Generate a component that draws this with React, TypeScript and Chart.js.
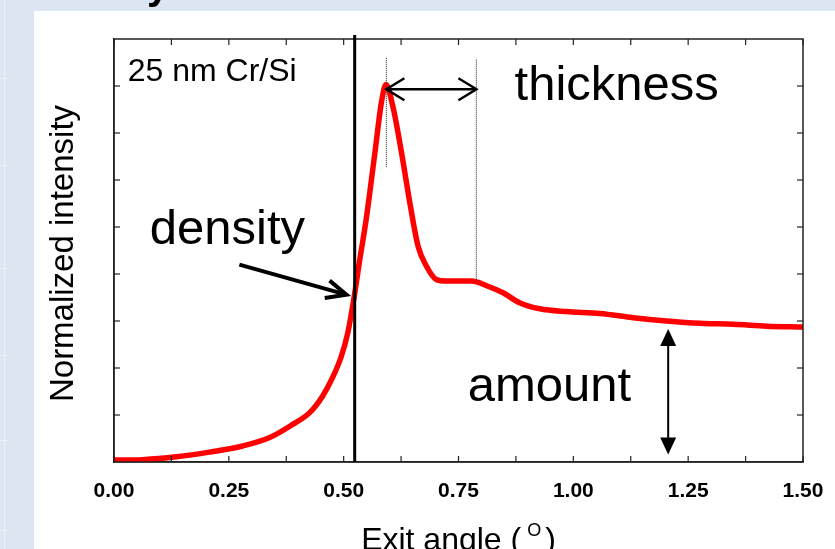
import React, { useEffect, useRef } from 'react';
import { Chart, registerables } from 'chart.js';

Chart.register(...registerables);

// ---- data ----
const exitAngle = [0, 0.062, 0.136, 0.208, 0.28, 0.339, 0.389, 0.426, 0.454, 0.476, 0.495, 0.509, 0.522, 0.535, 0.549, 0.568, 0.582, 0.592, 0.607, 0.626, 0.644, 0.662, 0.68, 0.702, 0.724, 0.778, 0.814, 0.847, 0.883, 0.927, 0.985, 1.058, 1.13, 1.203, 1.276, 1.348, 1.421, 1.5];
const intensity = [0.04, 0.05, 0.11, 0.21, 0.34, 0.52, 0.8, 1.05, 1.4, 1.8, 2.25, 2.75, 3.46, 4.3, 5.16, 6.58, 7.64, 8.03, 7.57, 6.58, 5.52, 4.59, 4.17, 3.88, 3.85, 3.85, 3.74, 3.6, 3.39, 3.26, 3.2, 3.16, 3.07, 3.0, 2.95, 2.93, 2.89, 2.87];

const xMajorTicks = [0, 0.25, 0.5, 0.75, 1.0, 1.25, 1.5];
const xMinorTicks = [0.125, 0.375, 0.625, 0.875, 1.125, 1.375];
const yTicks = [1, 2, 3, 4, 5, 6, 7, 8];

const xTitle = 'Exit angle (';
const xTitleSup = 'O';
const yTitle = 'Normalized intensity';
const sampleLabel = '25 nm Cr/Si';
const densityLabel = 'density';
const thicknessLabel = 'thickness';
const amountLabel = 'amount';

// annotation anchors in data units
const criticalAngle = 0.524;
const peakAngle = 0.593;
const shoulderAngle = 0.789;
const peakGuide = [8.6, 6.27];
const shoulderGuide = [8.56, 3.84];
const thicknessArrowY = 7.93;
const densityArrow = [[0.273, 4.2], [0.506, 3.56]];
const amountArrowX = 1.2065;
const amountArrowY = [0.16, 2.83];
const sampleLabelPos = [0.03, 8.1];
const densityLabelPos = [0.078, 4.63];
const thicknessLabelPos = [0.872, 7.7];
const amountLabelPos = [0.77, 1.29];

const SANS = '"Liberation Sans", Arial, sans-serif';

function line(ctx, x1, y1, x2, y2) {
  ctx.beginPath();
  ctx.moveTo(x1, y1);
  ctx.lineTo(x2, y2);
  ctx.stroke();
}

function openHead(ctx, tx, ty, fx, fy, len, half) {
  const dx = tx - fx, dy = ty - fy;
  const d = Math.hypot(dx, dy);
  const ux = dx / d, uy = dy / d;
  const bx = tx - ux * len, by = ty - uy * len;
  ctx.beginPath();
  ctx.moveTo(bx - uy * half, by + ux * half);
  ctx.lineTo(tx, ty);
  ctx.lineTo(bx + uy * half, by - ux * half);
  ctx.stroke();
}

function filledHead(ctx, tx, ty, fx, fy, len, half) {
  const dx = tx - fx, dy = ty - fy;
  const d = Math.hypot(dx, dy);
  const ux = dx / d, uy = dy / d;
  const bx = tx - ux * len, by = ty - uy * len;
  ctx.beginPath();
  ctx.moveTo(bx - uy * half, by + ux * half);
  ctx.lineTo(tx, ty);
  ctx.lineTo(bx + uy * half, by - ux * half);
  ctx.closePath();
  ctx.fill();
}

const decor = {
  id: 'decor',
  beforeDraw(chart) {
    const ctx = chart.ctx;
    ctx.save();
    ctx.fillStyle = '#dce6f2';
    ctx.fillRect(0, 0, chart.width, chart.height);
    ctx.fillStyle = '#ffffff';
    ctx.fillRect(34, 11, chart.width - 34, chart.height - 11);
    ctx.strokeStyle = '#eceff3';
    ctx.lineWidth = 1;
    line(ctx, 4.5, 0, 4.5, chart.height);
    [78, 165, 268, 355, 440, 530].forEach((y) => line(ctx, 0, y + 0.5, 8, y + 0.5));
    ctx.fillStyle = '#000';
    ctx.font = `bold 40px ${SANS}`;
    ctx.textBaseline = 'alphabetic';
    ctx.fillText('y', 147, -1);
    ctx.restore();
  },
  afterDatasetsDraw(chart) {
    const ctx = chart.ctx;
    const xs = chart.scales.x;
    const ys = chart.scales.y;
    const { left, right, top, bottom } = chart.chartArea;
    const X = (v) => xs.getPixelForValue(v);
    const Y = (v) => ys.getPixelForValue(v);
    ctx.save();

    // frame + inward ticks
    ctx.strokeStyle = '#222';
    ctx.lineWidth = 1.5;
    ctx.strokeRect(left, top, right - left, bottom - top);
    ctx.lineWidth = 1.2;
    [...xMajorTicks, ...xMinorTicks].forEach((v) => {
      const px = X(v);
      line(ctx, px, bottom, px, bottom - 6);
      line(ctx, px, top, px, top + 6);
    });
    yTicks.forEach((v) => {
      const py = Y(v);
      line(ctx, left, py, left + 6, py);
      line(ctx, right, py, right - 6, py);
    });

    // critical-angle line
    ctx.strokeStyle = '#000';
    ctx.lineWidth = 3;
    line(ctx, X(criticalAngle), top - 4, X(criticalAngle), bottom);

    // dotted guides
    ctx.strokeStyle = '#444';
    ctx.lineWidth = 1.2;
    ctx.setLineDash([1, 1]);
    line(ctx, X(peakAngle), Y(peakGuide[0]), X(peakAngle), Y(peakGuide[1]));
    line(ctx, X(shoulderAngle), Y(shoulderGuide[0]), X(shoulderAngle), Y(shoulderGuide[1]));
    ctx.setLineDash([]);

    // thickness arrow
    ctx.strokeStyle = '#000';
    ctx.lineWidth = 2.5;
    const ax1 = X(peakAngle), ax2 = X(shoulderAngle), ay = Y(thicknessArrowY);
    line(ctx, ax1, ay, ax2, ay);
    openHead(ctx, ax1, ay, ax2, ay, 18, 11);
    openHead(ctx, ax2, ay, ax1, ay, 18, 11);

    // density arrow
    ctx.lineWidth = 4;
    const dx1 = X(densityArrow[0][0]), dy1 = Y(densityArrow[0][1]);
    const dx2 = X(densityArrow[1][0]), dy2 = Y(densityArrow[1][1]);
    line(ctx, dx1, dy1, dx2 - 2, dy2 - 0.6);
    openHead(ctx, dx2, dy2, dx1, dy1, 20, 9);

    // amount arrow
    ctx.lineWidth = 2;
    ctx.fillStyle = '#000';
    const mx = X(amountArrowX), my1 = Y(amountArrowY[0]), my2 = Y(amountArrowY[1]);
    line(ctx, mx, my1 - 10, mx, my2 + 10);
    filledHead(ctx, mx, my1, mx, my2, 17, 8);
    filledHead(ctx, mx, my2, mx, my1, 17, 8);

    // labels
    ctx.fillStyle = '#000';
    ctx.textBaseline = 'alphabetic';
    ctx.textAlign = 'left';
    ctx.font = `32px ${SANS}`;
    ctx.fillText(sampleLabel, X(sampleLabelPos[0]), Y(sampleLabelPos[1]));
    ctx.font = `49px ${SANS}`;
    ctx.fillText(densityLabel, X(densityLabelPos[0]), Y(densityLabelPos[1]));
    ctx.fillText(thicknessLabel, X(thicknessLabelPos[0]), Y(thicknessLabelPos[1]));
    ctx.fillText(amountLabel, X(amountLabelPos[0]), Y(amountLabelPos[1]));

    // axis titles
    ctx.font = `33px ${SANS}`;
    ctx.save();
    ctx.translate(73, (top + bottom) / 2 + 3);
    ctx.rotate(-Math.PI / 2);
    ctx.textAlign = 'center';
    ctx.fillText(yTitle, 0, 0);
    ctx.restore();

    ctx.font = `32px ${SANS}`;
    const w1 = ctx.measureText(xTitle).width;
    ctx.font = `18px ${SANS}`;
    const w2 = ctx.measureText(xTitleSup).width;
    ctx.font = `32px ${SANS}`;
    const w3 = ctx.measureText(')').width;
    const total = w1 + 6 + w2 + 4 + w3;
    let tx = (left + right) / 2 - total / 2;
    const tb = 550;
    ctx.fillText(xTitle, tx, tb);
    tx += w1 + 6;
    ctx.font = `18px ${SANS}`;
    ctx.fillText(xTitleSup, tx, tb - 14);
    tx += w2 + 4;
    ctx.font = `32px ${SANS}`;
    ctx.fillText(')', tx, tb);

    ctx.restore();
  },
};

export default function App() {
  const ref = useRef(null);
  useEffect(() => {
    const points = exitAngle.map((x, i) => ({ x, y: intensity[i] }));
    const chart = new Chart(ref.current, {
      type: 'line',
      data: {
        datasets: [
          {
            data: points,
            borderColor: '#ff0000',
            borderWidth: 5.5,
            pointRadius: 0,
            cubicInterpolationMode: 'monotone',
            fill: false,
          },
        ],
      },
      options: {
        animation: false,
        responsive: false,
        devicePixelRatio: 1,
        layout: { padding: { left: 114, top: 39, right: 32, bottom: 47 } },
        plugins: { legend: { display: false }, tooltip: { enabled: false } },
        scales: {
          x: {
            type: 'linear',
            min: 0,
            max: 1.5,
            grid: { display: false, drawTicks: false },
            border: { display: true, color: '#222', width: 1.5 },
            afterBuildTicks: (scale) => {
              scale.ticks = xMajorTicks.map((v) => ({ value: v }));
            },
            afterFit: (scale) => {
              scale.height = 40;
              scale.paddingLeft = 0;
              scale.paddingRight = 0;
            },
            ticks: {
              color: '#000',
              padding: 17,
              maxRotation: 0,
              autoSkip: false,
              font: { family: SANS, size: 21, weight: 'bold' },
              callback: (v) => Number(v).toFixed(2),
            },
          },
          y: {
            type: 'linear',
            min: 0,
            max: 9,
            grid: { display: false, drawTicks: false },
            border: { display: true, color: '#222', width: 1.5 },
            ticks: { display: false },
            afterFit: (scale) => {
              scale.width = 0;
            },
          },
        },
      },
      plugins: [decor],
    });
    return () => chart.destroy();
  }, []);
  return (
    <div style={{ position: 'fixed', left: 0, top: 0, width: 835, height: 549, overflow: 'hidden' }}>
      <canvas ref={ref} width={835} height={549} style={{ display: 'block', width: 835, height: 549 }} />
    </div>
  );
}
